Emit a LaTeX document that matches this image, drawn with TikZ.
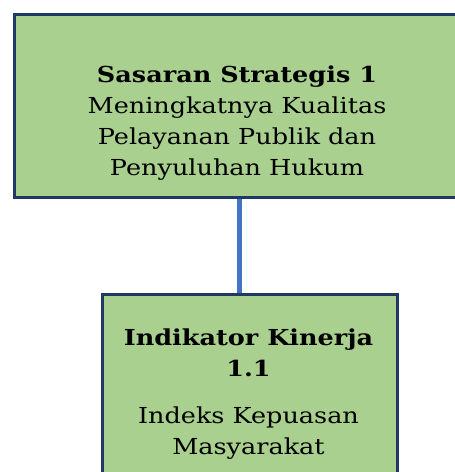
\documentclass[tikz,border=0pt]{standalone}
\usepackage{fontspec}
\setmainfont{DejaVu Serif}[FakeStretch=1.16]
\definecolor{boxfill}{HTML}{A9D08E}
\definecolor{boxline}{HTML}{203864}
\definecolor{connline}{HTML}{4472C4}
\tikzset{
  box/.style={draw=boxline, line width=2.5pt, fill=boxfill, rectangle, inner sep=0pt, anchor=north west},
  conn/.style={draw=connline, line width=4.5pt},
  txt/.style={anchor=base, inner sep=0pt, font=\fontsize{22}{31.3}\selectfont},
}
\begin{document}
\begin{tikzpicture}[x=1pt, y=-1pt]
\useasboundingbox (0,0) rectangle (455,472);
\clip (0,0) rectangle (455,472);
\node[box, minimum width=450pt, minimum height=183pt] (b1) at (13,13) {};
\node[box, minimum width=295pt, minimum height=200pt] (b2) at (101,293) {};
\draw[conn] (b1.south) -- (b1.south |- b2.north);
\node[txt] (t1) at (237,82) {\setlength\tabcolsep{0pt}\begin{tabular}[t]{c}\textbf{Sasaran Strategis 1}\\ Meningkatnya Kualitas\\ Pelayanan Publik dan\\ Penyuluhan Hukum\end{tabular}};
\node[txt] (t2) at (248.5,345) {\setlength\tabcolsep{0pt}\begin{tabular}[t]{c}\textbf{Indikator Kinerja}\\ \textbf{1.1}\\[16pt] Indeks Kepuasan\\ Masyarakat\end{tabular}};
\end{tikzpicture}
\end{document}
